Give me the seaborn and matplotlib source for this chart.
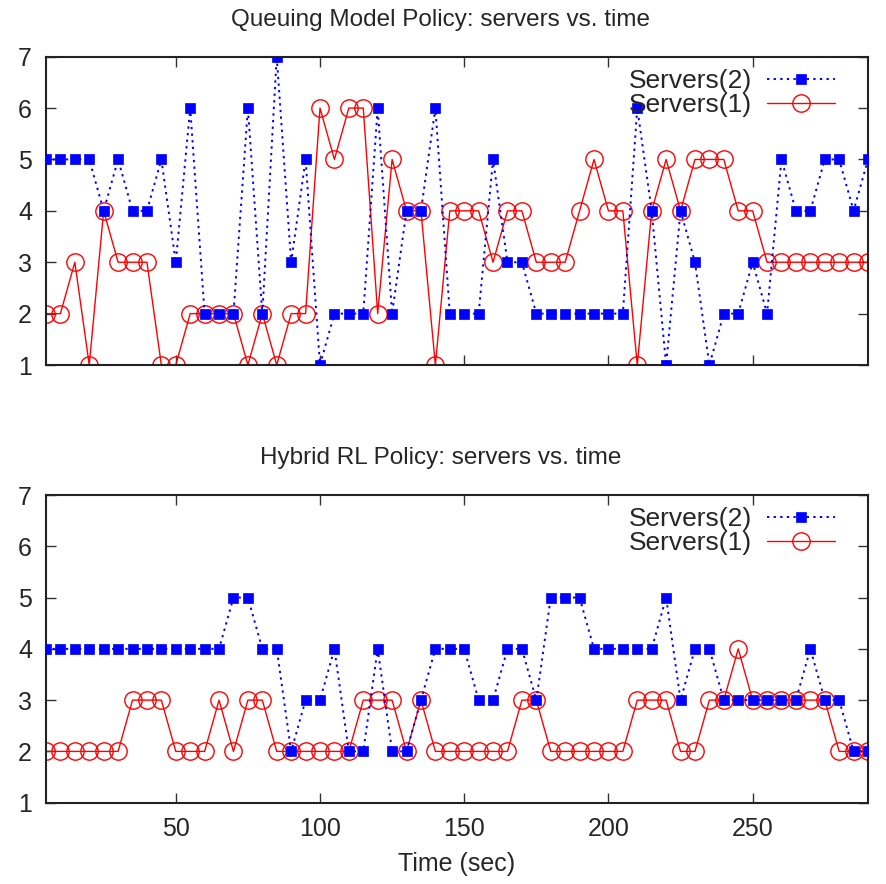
import numpy as np
import pandas as pd
import matplotlib
matplotlib.use("Agg")
import matplotlib.pyplot as plt
import seaborn as sns

# ---- data ----
time_sec = list(range(5, 291, 5))

queuing_servers2 = [5, 5, 5, 5, 4, 5, 4, 4, 5, 3,
                    6, 2, 2, 2, 6, 2, 7, 3, 5, 1,
                    2, 2, 2, 6, 2, 4, 4, 6, 2, 2,
                    2, 5, 3, 3, 2, 2, 2, 2, 2, 2,
                    2, 6, 4, 1, 4, 3, 1, 2, 2, 3,
                    2, 5, 4, 4, 5, 5, 4, 5]
queuing_servers1 = [2, 2, 3, 1, 4, 3, 3, 3, 1, 1,
                    2, 2, 2, 2, 1, 2, 1, 2, 2, 6,
                    5, 6, 6, 2, 5, 4, 4, 1, 4, 4,
                    4, 3, 4, 4, 3, 3, 3, 4, 5, 4,
                    4, 1, 4, 5, 4, 5, 5, 5, 4, 4,
                    3, 3, 3, 3, 3, 3, 3, 3]

hybrid_servers2 = [4, 4, 4, 4, 4, 4, 4, 4, 4, 4,
                   4, 4, 4, 5, 5, 4, 4, 2, 3, 3,
                   4, 2, 2, 4, 2, 2, 3, 4, 4, 4,
                   3, 3, 4, 4, 3, 5, 5, 5, 4, 4,
                   4, 4, 4, 5, 3, 4, 4, 3, 3, 3,
                   3, 3, 3, 4, 3, 3, 2, 2]
hybrid_servers1 = [2, 2, 2, 2, 2, 2, 3, 3, 3, 2,
                   2, 2, 3, 2, 3, 3, 2, 2, 2, 2,
                   2, 2, 3, 3, 3, 2, 3, 2, 2, 2,
                   2, 2, 2, 3, 3, 2, 2, 2, 2, 2,
                   2, 3, 3, 3, 2, 2, 3, 3, 4, 3,
                   3, 3, 3, 3, 3, 2, 2, 2]

titles = ["Queuing Model Policy: servers vs. time",
          "Hybrid RL Policy: servers vs. time"]
series_labels = ["Servers(2)", "Servers(1)"]
x_ticks = [50, 100, 150, 200, 250]
y_ticks = [1, 2, 3, 4, 5, 6, 7]
x_label = "Time (sec)"

# ---- style ----
sns.set_theme(style="white")
plt.rcParams['font.family'] = ['Liberation Sans', 'DejaVu Sans']
FS = 18

fig = plt.figure(figsize=(8.86, 8.84), dpi=100)
ax_top = fig.add_axes([0.0519, 0.5871, 0.9278, 0.3488])
ax_bot = fig.add_axes([0.0519, 0.0920, 0.9278, 0.3480])

panels = [(ax_top, queuing_servers2, queuing_servers1, titles[0]),
          (ax_bot, hybrid_servers2, hybrid_servers1, titles[1])]

for i, (ax, s2, s1, title) in enumerate(panels):
    df = pd.DataFrame({"t": time_sec, "s2": s2, "s1": s1})
    sns.lineplot(data=df, x="t", y="s1", ax=ax, color="#ff0000",
                 linewidth=1.0, linestyle="-", marker="o", markersize=12.5,
                 markerfacecolor="none", markeredgecolor="#ff0000",
                 markeredgewidth=1.0, label=series_labels[1], zorder=2)
    sns.lineplot(data=df, x="t", y="s2", ax=ax, color="#0000ff",
                 linewidth=1.4, linestyle=(0, (1.2, 2.2)), marker="s",
                 markersize=6.5, markerfacecolor="#0000ff",
                 markeredgecolor="#0000ff", markeredgewidth=0.5,
                 label=series_labels[0], zorder=3)
    ax.set_xlim(5, 290)
    ax.set_ylim(1, 7)
    ax.set_xticks(x_ticks)
    ax.set_yticks(y_ticks)
    ax.tick_params(axis="both", direction="in", length=7, width=1.0,
                   color="#333333", top=True, right=True, bottom=True,
                   left=True, labelsize=FS, pad=10)
    ax.set_yticklabels([str(v) for v in y_ticks])
    if i == 0:
        ax.set_xticklabels([])
        ax.set_xlabel("")
    else:
        ax.set_xticklabels([str(v) for v in x_ticks])
        ax.set_xlabel(x_label, fontsize=FS, labelpad=8)
    ax.set_ylabel("")
    for sp in ax.spines.values():
        sp.set_visible(True)
        sp.set_color("#222222")
        sp.set_linewidth(1.5)
    ax.set_title(title, fontsize=17.5, pad=22, x=0.4805)
    handles, labels = ax.get_legend_handles_labels()
    order = [labels.index(series_labels[0]), labels.index(series_labels[1])]
    leg = ax.legend([handles[k] for k in order], [labels[k] for k in order],
                    loc="upper right", frameon=False, markerfirst=False,
                    fontsize=19, handlelength=2.6, handletextpad=0.55,
                    labelspacing=0.0, borderaxespad=0.0,
                    bbox_to_anchor=(0.973, 0.995))
    leg.set_zorder(5)

fig.savefig("out.png", dpi=100, facecolor="white")
